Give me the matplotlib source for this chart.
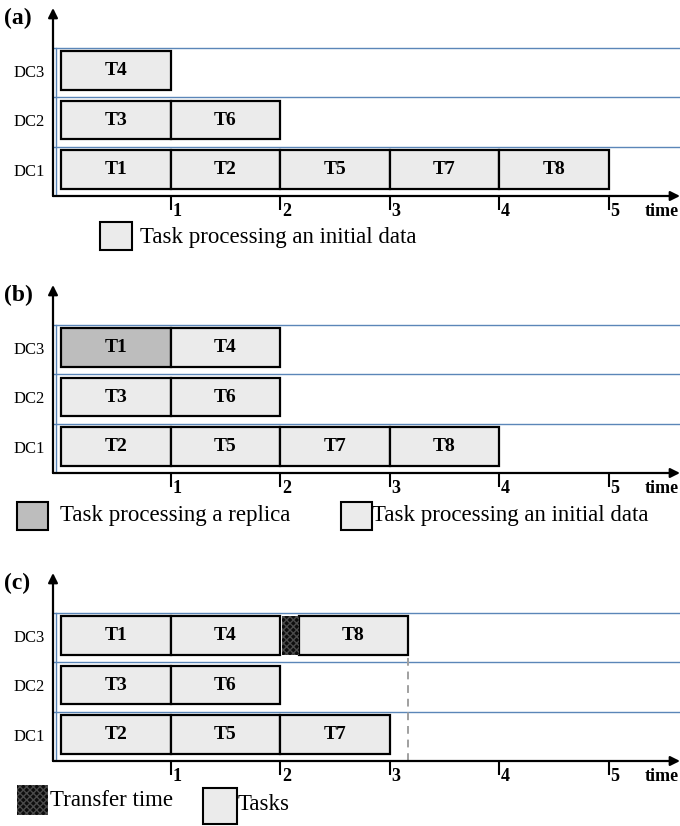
import matplotlib
matplotlib.use("Agg")
import matplotlib.pyplot as plt
from matplotlib.patches import Rectangle

plt.rcParams['font.family'] = ['Liberation Serif', 'DejaVu Serif']

rows = ["DC1", "DC2", "DC3"]
ticks = [1, 2, 3, 4, 5]

# panel (a): every task on its initial data
a_names = ["T1", "T2", "T5", "T7", "T8", "T3", "T6", "T4"]
a_rows = [0, 0, 0, 0, 0, 1, 1, 2]
a_starts = [0, 1, 2, 3, 4, 0, 1, 0]
a_lengths = [1, 1, 1, 1, 1, 1, 1, 1]
a_replica = [False] * 8

# panel (b): T1 runs on a replica in DC3
b_names = ["T2", "T5", "T7", "T8", "T3", "T6", "T1", "T4"]
b_rows = [0, 0, 0, 0, 1, 1, 2, 2]
b_starts = [0, 1, 2, 3, 0, 1, 0, 1]
b_lengths = [1, 1, 1, 1, 1, 1, 1, 1]
b_replica = [False, False, False, False, False, False, True, False]

# panel (c): T8 moved to DC3 after a transfer
c_names = ["T2", "T5", "T7", "T3", "T6", "T1", "T4", "T8"]
c_rows = [0, 0, 0, 1, 1, 2, 2, 2]
c_starts = [0, 1, 2, 0, 1, 0, 1, 2.17]
c_lengths = [1, 1, 1, 1, 1, 1, 1, 1]
c_replica = [False] * 8
c_transfer = (2, 2.02, 0.15)   # row, start, length
c_finish = 3.17

W, H = 680, 826
fig = plt.figure(figsize=(W / 100, H / 100), dpi=100)

x0_px, unit_px = 61, 109.5
xmin = (53 - x0_px) / unit_px
xmax = (680 - x0_px) / unit_px
row_px = 49.5
blue = '#5b86b8'
light = '#ebebeb'
dark = '#bdbdbd'
legend_fs = 16.5


def fx(px):
    return px / W


def fy(py):
    return 1 - py / H


def panel(axis_py, label, names, rws, starts, lengths, replica):
    top_py = axis_py - 188
    ax = fig.add_axes([fx(53), fy(axis_py), fx(680 - 53), 188 / H])
    ymax = 188 / row_px
    ax.set_xlim(xmin, xmax)
    ax.set_ylim(0, ymax)
    for s in ax.spines.values():
        s.set_visible(False)
    # row separators
    for y in [1, 2, 3]:
        ax.plot([xmin, xmax], [y, y], color=blue, lw=1, zorder=1)
    ax.plot([-0.05, -0.05], [0, 3], color=blue, lw=1, zorder=1)
    # bars
    cols = [dark if r else light for r in replica]
    centers = [r + 0.535 for r in rws]
    ax.barh(centers, lengths, left=starts, height=0.78, color=cols,
            edgecolor='black', linewidth=1.6, zorder=3)
    for n, c, s, l in zip(names, centers, starts, lengths):
        ax.text(s + l / 2, c, n, ha='center', va='center', fontsize=14,
                fontweight='bold', zorder=4)
    # axes arrows
    ap = dict(arrowstyle='-|>', lw=1.6, color='black', mutation_scale=14,
              shrinkA=0, shrinkB=0)
    ax.annotate('', xy=(xmax, 0), xytext=(xmin, 0), arrowprops=ap,
                annotation_clip=False, zorder=5)
    ax.annotate('', xy=(xmin, ymax), xytext=(xmin, 0), arrowprops=ap,
                annotation_clip=False, zorder=5)
    # ticks
    ax.set_xticks(ticks)
    ax.set_xticklabels([])
    ax.tick_params(axis='x', direction='out', length=10, width=1.5, color='black')
    for t in ticks:
        ax.annotate(str(t), (t - 0.015, 0), xytext=(2.5, -5),
                    textcoords='offset points', ha='left', va='top',
                    fontsize=13, fontweight='bold', annotation_clip=False)
    ax.annotate('time', (5.64, 0), xytext=(0, -5), textcoords='offset points',
                ha='right', va='top', fontsize=13, fontweight='bold',
                annotation_clip=False)
    ax.set_yticks([r + 0.535 for r in range(3)])
    ax.set_yticklabels(rows, fontsize=12)
    ax.tick_params(axis='y', length=0, pad=6)
    fig.text(fx(4), fy(top_py + 10), label, fontsize=17, fontweight='bold',
             ha='left', va='center')
    return ax


def swatch(x, y, w, h, fc, hatch=None):
    fig.add_artist(Rectangle((fx(x), fy(y + h)), w / W, h / H,
                             transform=fig.transFigure, facecolor=fc,
                             edgecolor='black' if hatch is None else '#4a4a4a',
                             hatch=hatch, linewidth=1.5 if hatch is None else 0))


panel(196, '(a)', a_names, a_rows, a_starts, a_lengths, a_replica)
swatch(100, 222, 32, 28, light)
fig.text(fx(140), fy(237), 'Task processing an initial data', fontsize=legend_fs,
         va='center', ha='left')

panel(473, '(b)', b_names, b_rows, b_starts, b_lengths, b_replica)
swatch(17, 502, 31, 28, dark)
fig.text(fx(60), fy(516), 'Task processing a replica', fontsize=legend_fs,
         va='center', ha='left')
swatch(341, 502, 31, 28, light)
fig.text(fx(372), fy(516), 'Task processing an initial data', fontsize=legend_fs,
         va='center', ha='left')

axc = panel(761, '(c)', c_names, c_rows, c_starts, c_lengths, c_replica)
r, s, l = c_transfer
axc.barh(r + 0.535, l, left=s, height=0.78, color='#0d0d0d',
         edgecolor='#4a4a4a', hatch='xxxxx', linewidth=0, zorder=3)
axc.plot([c_finish, c_finish], [0, 3], ls='--', color='#a0a0a0', lw=1.4,
         dashes=(4, 3), zorder=2)
swatch(17, 785, 31, 30, '#0d0d0d', hatch='xxxxx')
fig.text(fx(50), fy(801), 'Transfer time', fontsize=legend_fs, va='center',
         ha='left')
swatch(203, 788, 34, 36, light)
fig.text(fx(238), fy(805), 'Tasks', fontsize=legend_fs, va='center', ha='left')

fig.savefig('out.png', dpi=100)
